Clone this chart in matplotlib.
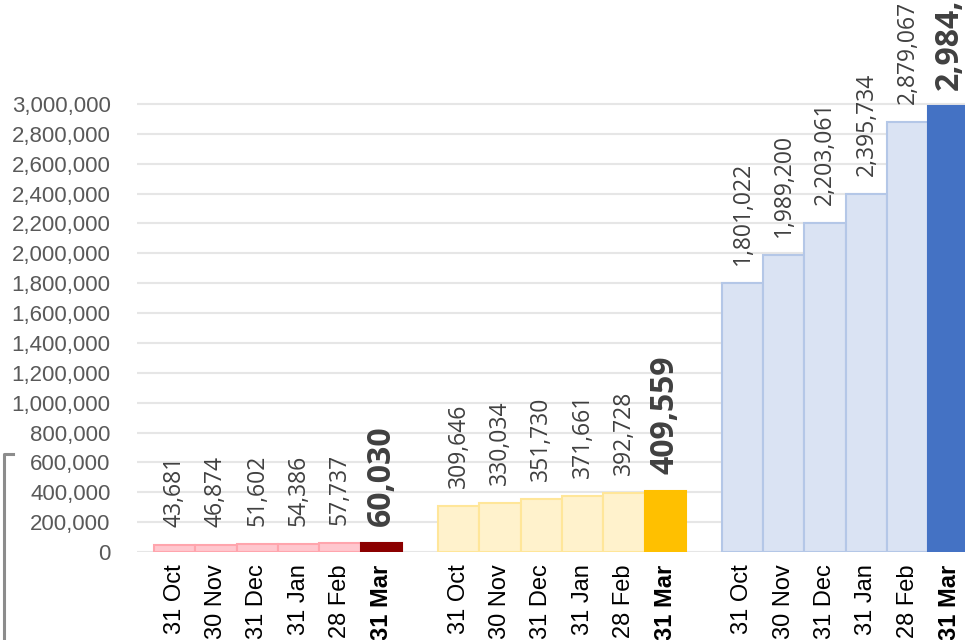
import matplotlib.pyplot as plt
from matplotlib.lines import Line2D

# data
months = ["31 Oct", "30 Nov", "31 Dec", "31 Jan", "28 Feb", "31 Mar"]
group_a = [43681, 46874, 51602, 54386, 57737, 60030]
group_b = [309646, 330034, 351730, 371661, 392728, 409559]
group_c = [1801022, 1989200, 2203061, 2395734, 2879067, 2984512]
yticks = list(range(0, 3000001, 200000))

light = ["#ffc7ce", "#fff2cc", "#dae3f3"]
edges = ["#ffa5ad", "#ffe699", "#b4c7e7"]
strong = ["#8b0000", "#ffc000", "#4472c4"]

sans = ["Liberation Sans", "DejaVu Sans"]

fig = plt.figure(figsize=(9.65, 6.4), dpi=100)
ax = fig.add_axes([137 / 965, 88 / 640, 1 - 137 / 965, (448 / 640) * 3.3 / 3.0])

pitch = 6.87  # group spacing in bar widths
xs_all, labels_all = [], []
for g, vals in enumerate([group_a, group_b, group_c]):
    n = len(vals)
    xs = [g * pitch + i + 0.5 for i in range(n)]
    for i, (x, v) in enumerate(zip(xs, vals)):
        last = i == n - 1
        ax.bar(x, v, width=1.0,
               color=strong[g] if last else light[g],
               edgecolor=strong[g] if last else edges[g],
               linewidth=1.5, zorder=3)
        ax.annotate(f"{v:,}", (x, v), xytext=(0, 12 if last else 13),
                    textcoords="offset points", ha="center", va="bottom",
                    rotation=90, fontsize=23 if last else 16.5,
                    fontweight="bold" if last else "normal",
                    family=["Open Sans", "DejaVu Sans"],
                    color="#404040", annotation_clip=False)
    xs_all += xs
    labels_all += months

ax.set_xlim(-0.41, -0.41 + 828 / 41.33)
ax.set_ylim(0, 3300000)
ax.set_yticks(yticks)
ax.set_yticklabels([f"{t:,}" for t in yticks], family=sans, fontsize=16,
                   color="#595959")
ax.set_xticks(xs_all)
ax.set_xticklabels(labels_all, rotation=90, family=sans, fontsize=17,
                   color="black")
for i, lab in enumerate(ax.get_xticklabels()):
    if i % 6 == 5:
        lab.set_fontweight("bold")
ax.tick_params(axis="y", length=0, pad=19)
ax.tick_params(axis="x", length=0, pad=9)
ax.grid(axis="y", color="#e6e6e6", linewidth=1.5, zorder=0)
ax.set_axisbelow(True)
for s in ax.spines.values():
    s.set_visible(False)

# grey bracket at the lower left edge
fig.add_artist(Line2D([13 / 965, 4 / 965, 4 / 965], [1 - 454 / 640, 1 - 454 / 640, 0],
                      color="#8c8c8c", linewidth=2.2))

fig.savefig("out.png", dpi=100)
